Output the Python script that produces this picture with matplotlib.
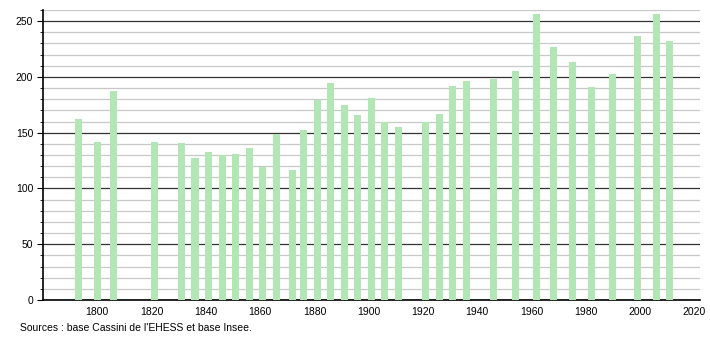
import matplotlib
matplotlib.use("Agg")
import matplotlib.pyplot as plt
from matplotlib.ticker import MultipleLocator

# census years and population
years = [1793, 1800, 1806, 1821, 1831, 1836, 1841, 1846, 1851, 1856,
         1861, 1866, 1872, 1876, 1881, 1886, 1891, 1896, 1901, 1906,
         1911, 1921, 1926, 1931, 1936, 1946, 1954, 1962, 1968, 1975,
         1982, 1990, 1999, 2006, 2011]
population = [162, 142, 187, 142, 141, 127, 133, 130, 131, 136,
              119, 149, 117, 152, 179, 195, 175, 166, 181, 160,
              155, 160, 167, 192, 196, 198, 205, 256, 227, 213,
              191, 203, 237, 256, 232]
xticks = list(range(1800, 2021, 20))
source = "Sources : base Cassini de l'EHESS et base Insee."

plt.rcParams['font.family'] = ['Liberation Sans', 'DejaVu Sans']

fig = plt.figure(figsize=(7.1, 3.4), dpi=100)
ax = fig.add_axes([0.0606, 0.1176, 0.925, 0.853])

ax.bar(years, population, width=2.6, color='#b3e6b5', zorder=3)

ax.set_xlim(1780, 2022)
ax.set_ylim(0, 260)
ax.set_xticks(xticks)
ax.yaxis.set_major_locator(MultipleLocator(50))
ax.yaxis.set_minor_locator(MultipleLocator(10))

# light grid every 10, darker every 50
ax.grid(which='minor', axis='y', color='#c8c8c8', linewidth=0.9, zorder=1)
ax.grid(which='major', axis='y', color='#333333', linewidth=0.9, zorder=2)

for s in ['top', 'right']:
    ax.spines[s].set_visible(False)
ax.spines['left'].set_linewidth(1.2)
ax.spines['bottom'].set_linewidth(1.2)

ax.tick_params(axis='y', which='major', length=4, labelsize=7.5, pad=3)
ax.tick_params(axis='y', which='minor', length=2)
ax.tick_params(axis='x', length=0, labelsize=7.5, pad=5)

fig.text(0.028, 0.035, source, fontsize=7.5, ha='left', va='center')

fig.savefig("out.png", dpi=100)
